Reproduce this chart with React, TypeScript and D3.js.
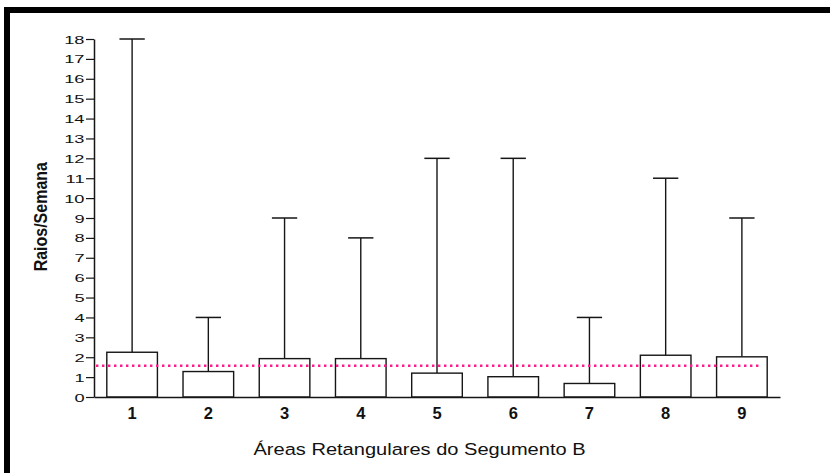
import * as d3 from "d3";
import React, { useRef, useEffect } from "react";

// data
const areas = ["1", "2", "3", "4", "5", "6", "7", "8", "9"];
const means = [2.25, 1.28, 1.93, 1.93, 1.2, 1.02, 0.68, 2.1, 2.02];
const maxima = [18, 4, 9, 8, 12, 12, 4, 11, 9];
const yTicks = [0, 1, 2, 3, 4, 5, 6, 7, 8, 9, 10, 11, 12, 13, 14, 15, 16, 17, 18];
const refLine = 1.57;

const W = 830;
const H = 473;
const margin = { top: 39, right: 50, bottom: 76, left: 94 };
const font = "'Liberation Sans', Arial, sans-serif";
const ink = "#161616";

const drawChart = (node: any) => {
  const svg = d3.select(node);
  svg.selectAll("*").remove();

  svg.append("rect").attr("width", W).attr("height", H).attr("fill", "#fff");
  // black frame, top and left only
  svg.append("rect").attr("x", 4).attr("y", 7).attr("width", W - 4).attr("height", 6).attr("fill", "#000");
  svg.append("rect").attr("x", 4).attr("y", 7).attr("width", 6).attr("height", H - 7).attr("fill", "#000");

  const x = d3
    .scaleBand()
    .domain(areas)
    .range([margin.left, W - margin.right])
    .paddingInner(0.336)
    .paddingOuter(0.168);
  const y = d3.scaleLinear().domain([0, 18]).range([H - margin.bottom, margin.top]);

  const rows = areas.map((a, i) => ({ name: a, mean: means[i], max: maxima[i] }));
  const g = svg.append("g");

  // whiskers
  g.selectAll("line.whisker")
    .data(rows)
    .enter()
    .append("line")
    .attr("class", "whisker")
    .attr("x1", (d: any) => x(d.name)! + x.bandwidth() / 2)
    .attr("x2", (d: any) => x(d.name)! + x.bandwidth() / 2)
    .attr("y1", (d: any) => y(d.mean))
    .attr("y2", (d: any) => y(d.max))
    .attr("stroke", ink)
    .attr("stroke-width", 1.4);

  g.selectAll("line.cap")
    .data(rows)
    .enter()
    .append("line")
    .attr("class", "cap")
    .attr("x1", (d: any) => x(d.name)! + x.bandwidth() / 4)
    .attr("x2", (d: any) => x(d.name)! + (x.bandwidth() * 3) / 4)
    .attr("y1", (d: any) => y(d.max))
    .attr("y2", (d: any) => y(d.max))
    .attr("stroke", ink)
    .attr("stroke-width", 1.5);

  // bars
  g.selectAll("rect.bar")
    .data(rows)
    .enter()
    .append("rect")
    .attr("class", "bar")
    .attr("x", (d: any) => x(d.name)!)
    .attr("y", (d: any) => y(d.mean))
    .attr("width", x.bandwidth())
    .attr("height", (d: any) => y(0) - y(d.mean))
    .attr("fill", "#fff")
    .attr("stroke", ink)
    .attr("stroke-width", 1.4);

  // reference line
  g.append("line")
    .attr("x1", margin.left + 2)
    .attr("x2", 762)
    .attr("y1", y(refLine))
    .attr("y2", y(refLine))
    .attr("stroke", "#ff1a8c")
    .attr("stroke-width", 2.4)
    .attr("stroke-dasharray", "2.4 3.6");

  // y axis
  const yAxis = svg
    .append("g")
    .attr("transform", "translate(" + margin.left + ",0)")
    .call(d3.axisLeft(y).tickValues(yTicks).tickSize(8).tickSizeOuter(0));
  yAxis.select(".domain").attr("stroke", ink).attr("stroke-width", 1.5);
  yAxis.selectAll(".tick line").attr("stroke", ink).attr("stroke-width", 1.2);
  yAxis
    .selectAll(".tick text")
    .attr("x", -9.5 / 1.6)
    .attr("dy", "0.36em")
    .attr("transform", "scale(1.6,1)")
    .attr("font-family", font)
    .attr("font-size", 11.4)
    .attr("fill", "#111");

  // x axis
  const xAxis = svg
    .append("g")
    .attr("transform", "translate(0," + y(0) + ")")
    .call(d3.axisBottom(x).tickSize(0).tickSizeOuter(0));
  xAxis.select(".domain").attr("stroke", ink).attr("stroke-width", 1.5);
  xAxis
    .selectAll(".tick text")
    .attr("y", 22)
    .attr("dy", 0)
    .attr("font-family", font)
    .attr("font-size", 16.5)
    .attr("font-weight", "bold")
    .attr("fill", "#111");

  // axis titles
  svg
    .append("text")
    .attr("transform", "translate(419.5,455) scale(1.18,1)")
    .attr("text-anchor", "middle")
    .attr("font-family", font)
    .attr("font-size", 17)
    .attr("fill", "#111")
    .text("Áreas Retangulares do Segumento B");

  svg
    .append("text")
    .attr("transform", "translate(47,216.7) scale(1.2,1) rotate(-90)")
    .attr("text-anchor", "middle")
    .attr("font-family", font)
    .attr("font-size", 16)
    .attr("font-weight", "bold")
    .attr("fill", "#111")
    .text("Raios/Semana");
};

function App() {
  const ref = useRef<any>(null);
  useEffect(() => {
    drawChart(ref.current);
  }, []);
  return (
    <svg
      ref={ref}
      width={W}
      height={H}
      style={{ position: "absolute", left: 0, top: 0, display: "block" }}
    ></svg>
  );
}

export default App;
